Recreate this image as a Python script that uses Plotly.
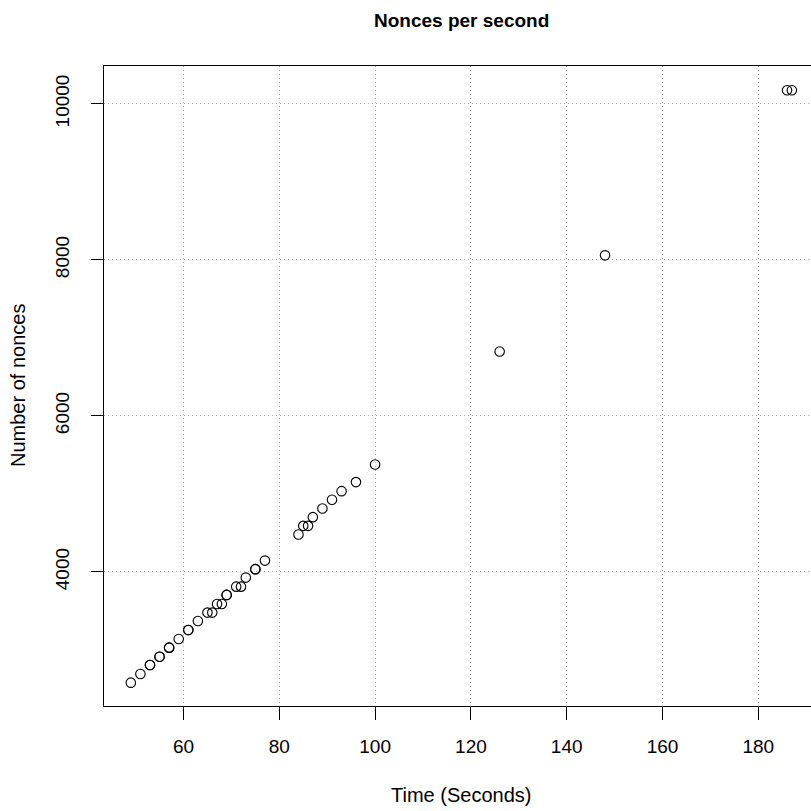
import plotly.graph_objects as go

# Data
time_sec = [49, 51, 53, 53, 55, 55, 57, 57, 59, 61, 61, 63, 65, 66, 67, 68, 69, 69,
            71, 72, 73, 75, 75, 77, 84, 85, 86, 87, 89, 91, 93, 96, 100, 126, 148, 186, 187]
nonces = [2580, 2691, 2807, 2807, 2913, 2913, 3029, 3029, 3140, 3256, 3256, 3371, 3478, 3478,
          3589, 3589, 3705, 3705, 3811, 3811, 3927, 4035, 4035, 4145, 4479, 4590, 4590, 4702,
          4812, 4924, 5035, 5151, 5377, 6826, 8058, 10174, 10174]

x_ticks = [60, 80, 100, 120, 140, 160, 180]
y_ticks = [4000, 6000, 8000, 10000]

FONT = "Liberation Sans, Arial, Helvetica, sans-serif"

fig = go.Figure()
fig.add_trace(go.Scatter(
    x=time_sec, y=nonces, mode="markers",
    marker=dict(symbol="circle-open", size=9.5, color="black", line=dict(width=1.1, color="black")),
    showlegend=False, hoverinfo="x+y",
))

fig.update_layout(
    width=811, height=811,
    margin=dict(l=104, r=0, t=66, b=105),
    paper_bgcolor="white", plot_bgcolor="white",
    font=dict(family=FONT, size=19, color="black"),
    xaxis=dict(
        range=[43.4, 191.0], tickvals=x_ticks, ticktext=[str(v) for v in x_ticks],
        showline=True, linecolor="black", linewidth=1, mirror=True,
        ticks="outside", ticklen=13, tickcolor="black", tickwidth=1,
        showgrid=True, gridcolor="#a8a8a8", griddash="1px,3px", gridwidth=1,
        zeroline=False, ticklabelstandoff=10,
        tickfont=dict(size=19, color="black"),
    ),
    yaxis=dict(
        range=[2281, 10485], tickvals=y_ticks, ticktext=[str(v) for v in y_ticks],
        showline=True, linecolor="black", linewidth=1, mirror=False,
        ticks="outside", ticklen=12, tickcolor="black", tickwidth=1,
        showgrid=True, gridcolor="#a8a8a8", griddash="1px,3px", gridwidth=1,
        zeroline=False, tickangle=-90, ticklabelstandoff=14,
        tickfont=dict(size=19, color="black"),
    ),
    annotations=[
        dict(text="<b>Nonces per second</b>", xref="paper", yref="paper",
             x=0.505, y=1 + (66 - 20) / 640, xanchor="center", yanchor="middle",
             showarrow=False, font=dict(size=19, family=FONT, color="black")),
        dict(text="Time (Seconds)", xref="paper", yref="paper",
             x=0.505, y=-(795 - 706) / 640, xanchor="center", yanchor="middle",
             showarrow=False, font=dict(size=20, family=FONT, color="black")),
        dict(text="Number of nonces", xref="paper", yref="paper",
             x=(18 - 104) / 707, y=0.5, xanchor="center", yanchor="middle", textangle=-90,
             showarrow=False, font=dict(size=20, family=FONT, color="black")),
    ],
)

fig.write_html("out.html")
